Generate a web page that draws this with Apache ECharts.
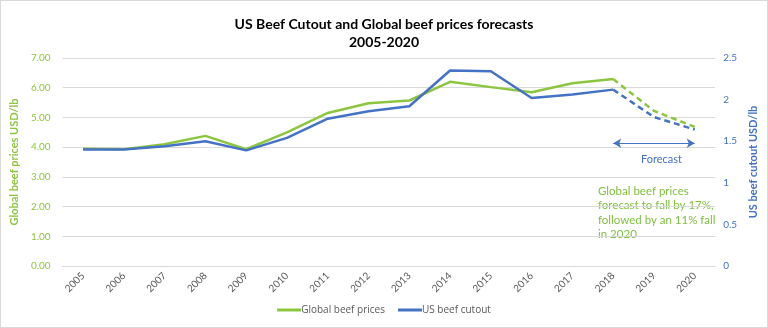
<!DOCTYPE html>
<html><head><meta charset="utf-8">
<script src="https://cdn.jsdelivr.net/npm/echarts@6/dist/echarts.min.js"></script>
<style>html,body{margin:0;padding:0;background:#fff}#c{width:766px;height:326px;border:1px solid #d9d9d9}</style>
</head><body><div id="c"></div>
<script>
const years = ['2005','2006','2007','2008','2009','2010','2011','2012','2013','2014','2015','2016','2017','2018','2019','2020'];
const globalActual = [3.95,3.93,4.10,4.38,3.93,4.50,5.15,5.48,5.57,6.20,6.02,5.85,6.15,6.29,null,null];
const globalForecast = [null,null,null,null,null,null,null,null,null,null,null,null,null,6.29,5.22,4.68];
const usActual = [1.40,1.40,1.44,1.50,1.39,1.54,1.77,1.86,1.92,2.35,2.34,2.02,2.06,2.12,null,null];
const usForecast = [null,null,null,null,null,null,null,null,null,null,null,null,null,2.12,1.79,1.64];
const leftTicks = [0,1,2,3,4,5,6,7];
const rightTicks = [0,0.5,1,1.5,2,2.5];

const GREEN = '#8cc63f', BLUE = '#4472c4';
const chart = echarts.init(document.getElementById('c'));
const font = 'Lato, "Open Sans", sans-serif';
chart.setOption({
  animation:false,
  textStyle:{fontFamily:font},
  title:{text:'US Beef Cutout and Global beef prices forecasts\n2005-2020',left:'center',top:9,
    textStyle:{fontSize:14,fontWeight:'bold',color:'#000',lineHeight:18,fontFamily:font}},
  grid:{left:55,right:50,top:57,bottom:61},
  legend:{data:['Global beef prices','US beef cutout'],bottom:7,left:'center',itemWidth:24,itemHeight:3,itemGap:13,
    icon:'rect',textStyle:{fontSize:10,color:'#595959',padding:[0,0,0,-5],fontFamily:'"Open Sans", sans-serif'}},
  xAxis:{type:'category',data:years,boundaryGap:true,
    axisLine:{lineStyle:{color:'#d9d9d9'}},axisTick:{show:false},
    axisLabel:{rotate:45,color:'#595959',fontSize:10,margin:8}},
  yAxis:[
    {type:'value',min:0,max:7,interval:1,name:'Global beef prices USD/lb',nameLocation:'middle',nameGap:34,
     nameTextStyle:{color:GREEN,fontWeight:'bold',fontSize:11},
     axisLabel:{color:GREEN,fontSize:10,formatter:v=>v.toFixed(2),margin:12},
     splitLine:{lineStyle:{color:'#d9d9d9'}},axisLine:{show:false},axisTick:{show:false}},
    {type:'value',min:0,max:2.5,interval:0.5,name:'US beef cutout USD/lb',nameLocation:'middle',nameGap:26,
     nameTextStyle:{color:BLUE,fontWeight:'bold',fontSize:11},
     axisLabel:{color:BLUE,fontSize:10,margin:8},
     splitLine:{show:false},axisLine:{show:false},axisTick:{show:false}}
  ],
  series:[
    {name:'Global beef prices',type:'line',data:globalActual,yAxisIndex:0,symbol:'none',
     lineStyle:{color:GREEN,width:2.5},itemStyle:{color:GREEN}},
    {name:'US beef cutout',type:'line',data:usActual,yAxisIndex:1,symbol:'none',
     lineStyle:{color:BLUE,width:2.5},itemStyle:{color:BLUE}},
    {name:'Global beef prices',type:'line',data:globalForecast,yAxisIndex:0,symbol:'none',
     lineStyle:{color:GREEN,width:2.5,type:[6,4]},itemStyle:{color:GREEN}},
    {name:'US beef cutout',type:'line',data:usForecast,yAxisIndex:1,symbol:'none',
     lineStyle:{color:BLUE,width:2.5,type:[6,4]},itemStyle:{color:BLUE},
     markLine:{silent:true,symbol:['arrow','arrow'],symbolSize:[7,8],
       lineStyle:{color:BLUE,width:1,type:'solid'},label:{show:false},
       data:[[{coord:['2018',1.475]},{coord:['2020',1.475]}]]}}
  ],
  graphic:[
    {type:'text',left:640,top:153,style:{text:'Forecast',fill:BLUE,fontSize:11,fontFamily:font}},
    {type:'text',left:597,top:183,style:{text:'Global beef prices\nforecast to fall by 17%,\nfollowed by an 11% fall\nin 2020',
      fill:'#7fbf3f',fontSize:11.5,lineHeight:14.5,fontFamily:font}}
  ]
});
</script></body></html>
